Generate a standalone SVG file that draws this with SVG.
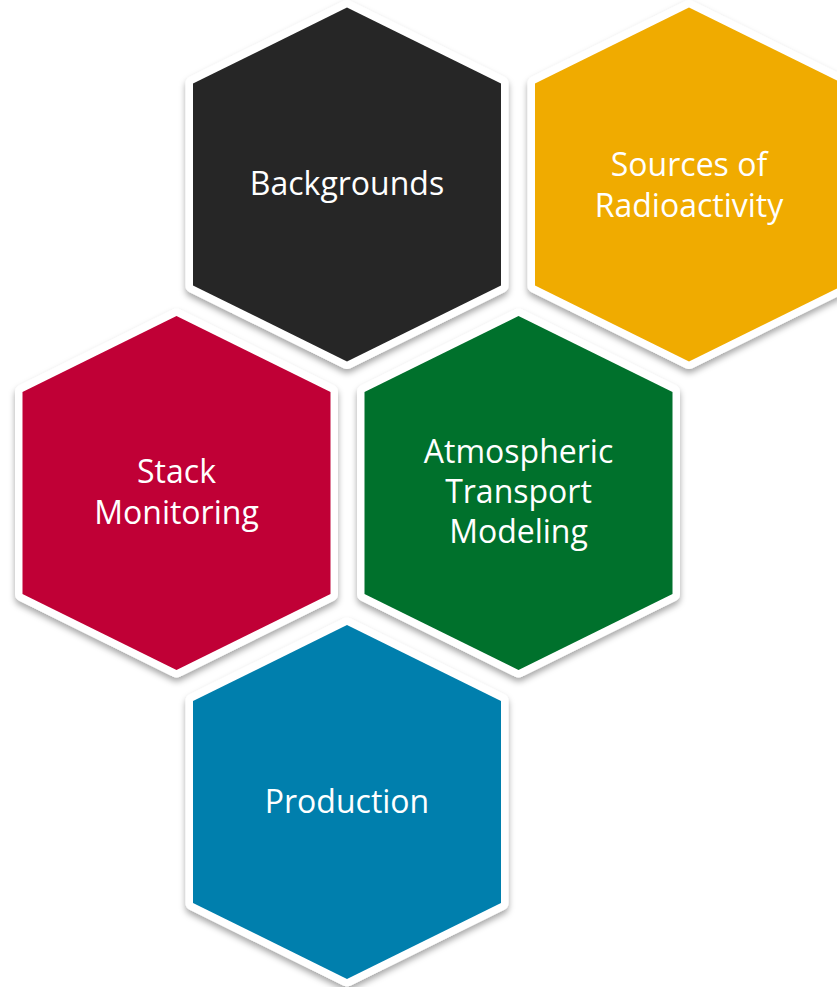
<svg xmlns="http://www.w3.org/2000/svg" xmlns:xlink="http://www.w3.org/1999/xlink" width="837" height="987" viewBox="0 0 837 987">
  <defs>
    <filter id="shadow" x="-20%" y="-20%" width="140%" height="140%">
      <feDropShadow dx="0" dy="4" stdDeviation="3" flood-color="#000" flood-opacity="0.35"/>
    </filter>
    <polygon id="hex" points="0,-177 154,-101 154,101 0,177 -154,101 -154,-101"/>
  </defs>
  <style>
    .frame { fill: #ffffff; stroke: #ffffff; stroke-width: 15; stroke-linejoin: round; filter: url(#shadow); }
    .label { font-family: "Open Sans", "Liberation Sans", sans-serif; font-size: 32px; fill: #ffffff; text-anchor: middle; }
  </style>
  <rect x="0" y="0" width="837" height="987" fill="#ffffff"/>
  <g id="connectors"></g>
  <g id="backgrounds">
    <use href="#hex" class="frame" x="347" y="184.5"/>
    <use href="#hex" x="347" y="184.5" fill="#262626"/>
    <text class="label" x="347" y="194.5">Backgrounds</text>
  </g>
  <g id="sources">
    <use href="#hex" class="frame" x="689" y="184.5"/>
    <use href="#hex" x="689" y="184.5" fill="#F0AB00"/>
    <text class="label" x="689" y="175.5">Sources of</text>
    <text class="label" x="689" y="216.5">Radioactivity</text>
  </g>
  <g id="stack">
    <use href="#hex" class="frame" x="176.5" y="493"/>
    <use href="#hex" x="176.5" y="493" fill="#C00036"/>
    <text class="label" x="176.5" y="482.5">Stack</text>
    <text class="label" x="176.5" y="523.5">Monitoring</text>
  </g>
  <g id="atmospheric">
    <use href="#hex" class="frame" x="518.5" y="493"/>
    <use href="#hex" x="518.5" y="493" fill="#00712C"/>
    <text class="label" x="518.5" y="462.5">Atmospheric</text>
    <text class="label" x="518.5" y="502.5">Transport</text>
    <text class="label" x="518.5" y="542.5">Modeling</text>
  </g>
  <g id="production">
    <use href="#hex" class="frame" x="347" y="802"/>
    <use href="#hex" x="347" y="802" fill="#007FAD"/>
    <text class="label" x="347" y="812.5">Production</text>
  </g>
</svg>
